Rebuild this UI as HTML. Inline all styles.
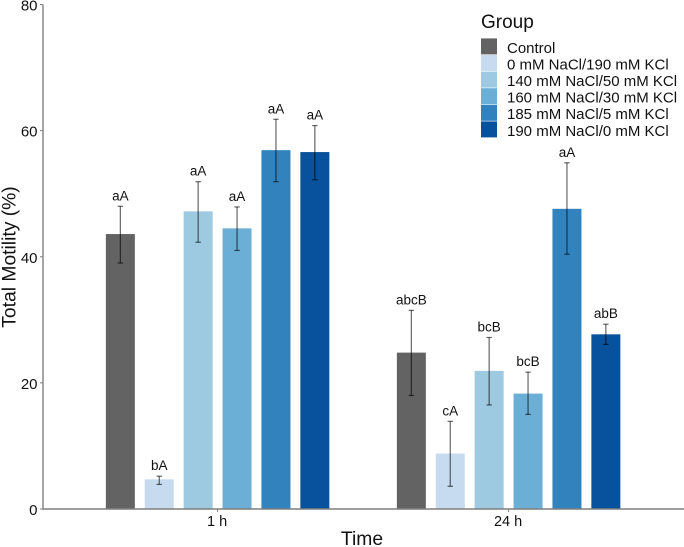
<!DOCTYPE html>
<html lang="en">
<head>
<meta charset="utf-8">
<title>Total Motility by Time and Group</title>
<style>
  html, body { margin: 0; padding: 0; background: #fff; }
  svg { display: block; font-family: "Liberation Sans", Arial, sans-serif; }
</style>
</head>
<body>
<svg id="chart" width="684" height="547" viewBox="0 0 684 547" xmlns="http://www.w3.org/2000/svg"></svg>
<script>
const timeCategories = ["1 h", "24 h"];
const groupNames = ["Control", "0 mM NaCl/190 mM KCl", "140 mM NaCl/50 mM KCl", "160 mM NaCl/30 mM KCl", "185 mM NaCl/5 mM KCl", "190 mM NaCl/0 mM KCl"];
const groupColors = ["#636363", "#c6dbef", "#9ecae1", "#6baed6", "#3182bd", "#08519c"];
const yTicks = [0, 20, 40, 60, 80];

const values1h = [43.6, 4.7, 47.2, 44.5, 56.9, 56.6];
const upper1h = [48.0, 5.2, 51.9, 47.9, 61.8, 60.8];
const lower1h = [39.0, 3.9, 42.3, 41.0, 51.9, 52.2];
const letters1h = ["aA", "bA", "aA", "aA", "aA", "aA"];

const values24h = [24.8, 8.8, 21.9, 18.3, 47.6, 27.7];
const upper24h = [31.5, 13.9, 27.2, 21.7, 54.9, 29.3];
const lower24h = [18.0, 3.6, 16.5, 15.0, 40.4, 26.1];
const letters24h = ["abcB", "cA", "bcB", "bcB", "aA", "abB"];

const seriesValues = [values1h, values24h];
const seriesUpper = [upper1h, upper24h];
const seriesLower = [lower1h, lower24h];
const seriesLetters = [letters1h, letters24h];

const svg = document.getElementById("chart");
const NS = "http://www.w3.org/2000/svg";

function yScale(v) { return 509 - v * (504.5 / 80); }
function xBand(i) { return 217.6 + i * 291; }
function xBar(i, j) { return xBand(i) + (j - 2.5) * 38.9; }

function make(tag, attrs, text) {
  const el = document.createElementNS(NS, tag);
  for (const k in attrs) el.setAttribute(k, attrs[k]);
  if (text !== undefined) el.textContent = text;
  svg.appendChild(el);
  return el;
}

const barWidth = 29;
const textColor = "#111";

// bars
timeCategories.forEach((cat, i) => {
  groupNames.forEach((g, j) => {
    const v = seriesValues[i][j];
    const bar = make("rect", {
      x: xBar(i, j) - barWidth / 2,
      y: yScale(v),
      width: barWidth,
      height: yScale(0) - yScale(v),
      fill: groupColors[j]
    });
    
    
  });
});

// error bars and significance letters
timeCategories.forEach((cat, i) => {
  groupNames.forEach((g, j) => {
    const cx = xBar(i, j);
    const yU = yScale(seriesUpper[i][j]);
    const yL = yScale(seriesLower[i][j]);
    const stem = make("line", { x1: cx, x2: cx, y1: yU, y2: yL, stroke: "#000", "stroke-opacity": 0.6, "stroke-width": 1.2 });
    
    
    const capTop = make("line", { x1: cx - 2.7, x2: cx + 2.7, y1: yU, y2: yU, stroke: "#000", "stroke-opacity": 0.6, "stroke-width": 1.2 });
    
    
    const capBottom = make("line", { x1: cx - 2.7, x2: cx + 2.7, y1: yL, y2: yL, stroke: "#000", "stroke-opacity": 0.6, "stroke-width": 1.2 });
    
    
    const label = make("text", { x: cx, y: yU - 6, "text-anchor": "middle", "font-size": 13.5, fill: textColor }, seriesLetters[i][j]);
    
    
  });
});

// y axis
const yAxisLine = make("line", { x1: 43, x2: 43, y1: yScale(80), y2: yScale(0) + 0.7, stroke: "#7f7f7f", "stroke-width": 1.4 });



yTicks.forEach(t => {
  const tick = make("line", { x1: 40, x2: 43, y1: yScale(t), y2: yScale(t), stroke: "#7f7f7f", "stroke-width": 1 });
  
  
  const lab = make("text", { x: 37.5, y: yScale(t) + 6, "text-anchor": "end", "font-size": 15, fill: textColor }, String(t));
  
  
});

// x axis
const xAxisLine = make("line", { x1: 43, x2: 684, y1: yScale(0), y2: yScale(0), stroke: "#7f7f7f", "stroke-width": 1.4 });



timeCategories.forEach((cat, i) => {
  const tick = make("line", { x1: xBand(i), x2: xBand(i), y1: 509, y2: 512, stroke: "#7f7f7f", "stroke-width": 1 });
  
  
  const lab = make("text", { x: xBand(i) - 0.5, y: 526, "text-anchor": "middle", "font-size": 14.5, fill: textColor }, cat);
  
  
});

// legend
const legendTitle = make("text", { x: 481, y: 28, "font-size": 19, fill: textColor }, "Group");



groupNames.forEach((g, j) => {
  const rowY = 38.4 + j * 16.6;
  const swatch = make("rect", { x: 481, y: rowY, width: 16, height: 16, fill: groupColors[j] });
  
  
  const lab = make("text", { x: 507, y: rowY + 14.4, "font-size": 15, fill: textColor }, g);
  
  
});

// axis titles
const xTitle = make("text", { x: 362, y: 545, "text-anchor": "middle", "font-size": 19.3, fill: textColor }, "Time");



const yTitle = make("text", { x: 0, y: 0, "text-anchor": "middle", "font-size": 19.3, fill: textColor, transform: "translate(15.5,257) rotate(-90)" }, "Total Motility (%)");


</script>
</body>
</html>
